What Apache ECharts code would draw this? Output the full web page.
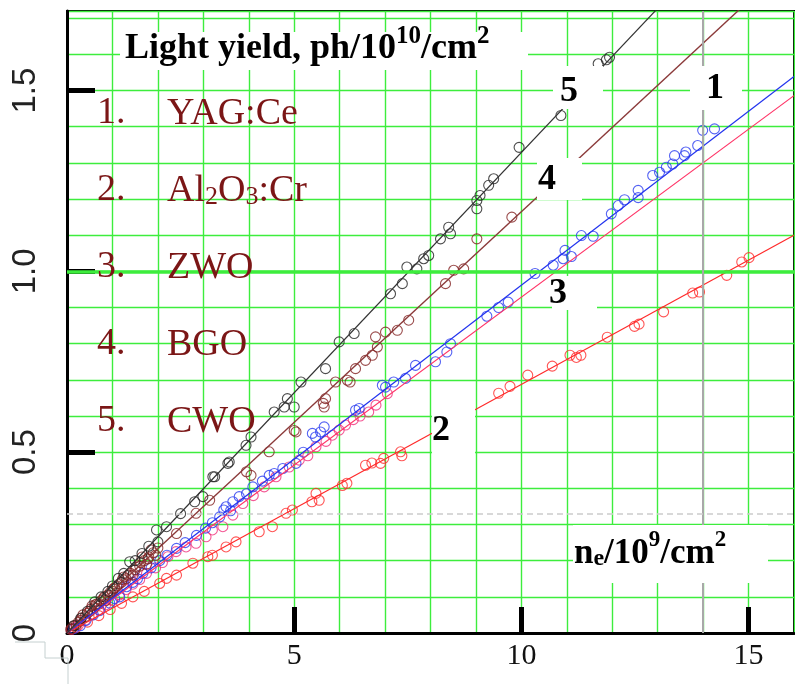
<!DOCTYPE html>
<html>
<head>
<meta charset="utf-8">
<script src="https://cdn.jsdelivr.net/npm/echarts@6/dist/echarts.min.js"></script>
<style>html,body{margin:0;padding:0;background:#fff}#c{width:795px;height:684px}</style>
</head>
<body>
<div id="c"></div>
<script>
// ---------- data ----------
const xTickValues = [0, 5, 10, 15];
const xTickLabels = ['0', '5', '10', '15'];
const yTickValues = [0, 0.5, 1.0, 1.5];
const yTickLabels = ['0', '0.5', '1.0', '1.5'];

const legendNums = ['1.', '2.', '3.', '4.', '5.'];
const legendNames = ['YAG:Ce', 'Al{sub|2}O{sub|3}:Cr', 'ZWO', 'BGO', 'CWO'];
const curveLabels = ['5', '1', '4', '3', '2'];

// 1. YAG:Ce (blue)
const yagPts = [[0.15,0.012],[0.29,0.02],[0.42,0.035],[0.58,0.05],[0.72,0.062],[0.94,0.083],[1.05,0.095],[1.16,0.1],[1.31,0.128],[1.45,0.14],[1.55,0.15],[1.67,0.165],[1.85,0.18],[2.04,0.2],[2.2,0.215],[2.41,0.234],[2.6,0.25],[2.85,0.27],[3.05,0.29],[3.2,0.305],[3.36,0.321],[3.45,0.34],[3.5,0.349],[3.6,0.338],[3.65,0.363],[3.79,0.377],[3.95,0.385],[4.09,0.404],[4.3,0.42],[4.45,0.436],[4.56,0.441],[4.75,0.455],[5.04,0.469],[5.2,0.5],[5.4,0.552],[5.47,0.542],[5.58,0.556],[5.66,0.57],[6.35,0.616],[6.43,0.621],[6.94,0.685],[7.01,0.68],[7.19,0.694],[7.45,0.704],[7.67,0.74],[8.11,0.75],[8.36,0.777],[8.44,0.8],[9.24,0.876],[9.5,0.9],[9.71,0.915],[10.3,0.994],[10.7,1.017],[10.92,1.035],[10.96,1.058],[11.1,1.041],[11.32,1.099],[11.58,1.097],[11.98,1.159],[12.13,1.182],[12.27,1.198],[12.57,1.204],[12.57,1.224],[12.89,1.265],[13.04,1.274],[13.19,1.288],[13.33,1.297],[13.37,1.32],[13.59,1.32],[13.62,1.33],[13.88,1.348],[13.99,1.39],[14.25,1.394]];
const yagFit = [[0,0],[16,1.539]];

// 2. Al2O3:Cr (red)
const alPts = [[0.2,0.015],[0.45,0.03],[0.7,0.048],[0.95,0.065],[1.2,0.082],[1.45,0.1],[1.7,0.115],[2.04,0.137],[2.19,0.151],[2.41,0.16],[2.77,0.193],[3.1,0.211],[3.2,0.215],[3.5,0.238],[3.72,0.252],[4.23,0.28],[4.52,0.294],[4.82,0.331],[4.96,0.34],[5.39,0.363],[5.48,0.386],[5.55,0.367],[6.06,0.408],[6.16,0.414],[6.57,0.464],[6.71,0.47],[6.9,0.469],[6.97,0.483],[7.34,0.501],[7.37,0.49],[9.5,0.663],[9.75,0.682],[10.14,0.713],[10.68,0.738],[11.07,0.768],[11.21,0.762],[11.31,0.768],[11.89,0.818],[12.49,0.848],[12.59,0.854],[13.13,0.888],[13.77,0.94],[13.92,0.943],[14.52,0.989],[14.85,1.026],[15.01,1.038]];
const alFit = [[0,0],[16,1.1]];

// 3. ZWO (pink-red)
const zwoPts = [[0.1,0.01],[0.25,0.022],[0.4,0.035],[0.55,0.05],[0.7,0.065],[0.85,0.078],[1.0,0.09],[1.15,0.105],[1.3,0.12],[1.45,0.135],[1.6,0.148],[1.75,0.165],[1.95,0.18],[2.1,0.195],[2.22,0.211],[2.4,0.225],[2.62,0.238],[2.84,0.248],[3.06,0.266],[3.2,0.285],[3.43,0.294],[3.65,0.326],[3.87,0.358],[4.1,0.38],[4.34,0.404],[4.6,0.432],[4.89,0.459],[5.11,0.478],[5.3,0.49],[5.48,0.515],[5.7,0.53],[5.84,0.547],[5.99,0.561],[6.13,0.575],[6.3,0.59],[6.45,0.6],[6.64,0.611],[6.8,0.63],[7.05,0.662]];
const zwoFit = [[0,0],[16,1.486]];

// 4. BGO (brown)
const bgoPts = [[0.08,0.01],[0.1,0.012],[0.15,0.02],[0.2,0.022],[0.25,0.03],[0.3,0.035],[0.32,0.042],[0.35,0.05],[0.4,0.045],[0.45,0.055],[0.5,0.06],[0.52,0.066],[0.55,0.075],[0.6,0.07],[0.62,0.078],[0.65,0.08],[0.7,0.08],[0.75,0.09],[0.8,0.095],[0.82,0.1],[0.85,0.09],[0.9,0.105],[0.95,0.112],[1.0,0.115],[1.02,0.122],[1.05,0.125],[1.1,0.13],[1.15,0.136],[1.2,0.14],[1.22,0.148],[1.25,0.155],[1.3,0.15],[1.35,0.16],[1.4,0.165],[1.45,0.16],[1.5,0.175],[1.52,0.182],[1.6,0.185],[1.62,0.195],[1.65,0.21],[1.7,0.2],[1.75,0.19],[1.78,0.205],[1.8,0.21],[1.85,0.23],[1.9,0.222],[1.95,0.215],[2.0,0.235],[2.41,0.275],[2.84,0.331],[3.14,0.367],[3.95,0.446],[4.05,0.436],[4.45,0.501],[5.0,0.56],[5.04,0.556],[5.64,0.635],[5.66,0.625],[5.69,0.648],[5.91,0.694],[6.17,0.699],[6.23,0.694],[6.35,0.731],[6.57,0.754],[6.72,0.768],[6.79,0.819],[6.83,0.791],[7.01,0.832],[7.27,0.837],[7.52,0.865],[8.33,0.966],[8.51,1.003],[8.73,1.007],[9.02,1.09],[9.79,1.15]];
const bgoFit = [[0,0],[16,1.864]];

// 5. CWO (black)
const cwoPts = [[0.15,0.02],[0.3,0.04],[0.45,0.06],[0.61,0.086],[0.75,0.1],[0.9,0.115],[1.0,0.13],[1.13,0.151],[1.25,0.165],[1.38,0.197],[1.5,0.2],[1.65,0.22],[1.8,0.24],[1.97,0.285],[2.0,0.252],[2.19,0.294],[2.5,0.33],[2.81,0.363],[2.99,0.377],[3.21,0.432],[3.25,0.432],[3.54,0.469],[3.57,0.473],[3.94,0.519],[4.05,0.542],[4.56,0.611],[4.78,0.625],[4.85,0.648],[5.0,0.625],[5.15,0.694],[5.69,0.731],[5.99,0.805],[6.32,0.828],[7.12,0.938],[7.38,0.966],[7.48,1.012],[7.7,1.007],[7.85,1.035],[7.96,1.044],[8.22,1.09],[8.4,1.122],[8.44,1.104],[9.02,1.173],[9.02,1.196],[9.09,1.21],[9.28,1.238],[9.39,1.256],[9.95,1.343],[10.87,1.431],[11.69,1.574],[11.87,1.585],[11.94,1.592]];
const cwoFit = [[0,0],[16,2.126]];

const refLineY = [1.0];      // thick green line
const greyLineX = [14];      // grey vertical line
const dashLineY = [0.331];   // grey dashed line

// ---------- styles ----------
const GREEN = '#3ded3d';
const SERIF = '"Liberation Serif", "Times New Roman", serif';
const LEGEND_RED = '#7b1616';

function scatter(name, data, color) {
  return {
    name, type: 'scatter', data, symbol: 'circle', symbolSize: 10,
    itemStyle: { color: 'rgba(0,0,0,0)', borderColor: color, borderWidth: 1.1 },
    z: 3, silent: true
  };
}
function fit(name, data, color, w) {
  return {
    name: name + ' fit', type: 'line', data, showSymbol: false, symbol: 'none',
    lineStyle: { color, width: w || 1.2 }, z: 4, silent: true, clip: true
  };
}

const chart = echarts.init(document.getElementById('c'), null, { renderer: 'canvas' });

const whiteBoxes = [
  [120, 32, 408, 38],   // title
  [553, 66, 50, 43],    // 5
  [690, 66, 52, 44],    // 1
  [537, 158, 45, 42],   // 4
  [552, 276, 45, 34],   // 3
  [432, 405, 43, 50],   // 2
  [573, 525, 195, 58]   // n_e
];
const labelPos = [[569, 92], [715, 89], [547, 180], [558, 294], [441, 431]];
const legendY = [112, 189, 266, 343, 420];

const graphics = [];
whiteBoxes.forEach(b => graphics.push({
  type: 'rect', z: 100, silent: true,
  shape: { x: b[0], y: b[1], width: b[2], height: b[3] },
  style: { fill: '#fff' }
}));
curveLabels.forEach((t, i) => graphics.push({
  type: 'text', z: 101, silent: true,
  style: { x: labelPos[i][0], y: labelPos[i][1], text: t, fill: '#000',
    fontFamily: SERIF, fontWeight: 'bold', fontSize: 36, align: 'center', verticalAlign: 'middle' }
}));
legendNums.forEach((t, i) => {
  graphics.push({
    type: 'text', z: 101, silent: true,
    style: { x: 97, y: legendY[i] + 1, text: t, fill: LEGEND_RED, fontFamily: SERIF, fontSize: 38,
      align: 'left', verticalAlign: 'middle' }
  });
  graphics.push({
    type: 'text', z: 101, silent: true,
    style: { x: 167, y: legendY[i] - 7, text: '{m|' + legendNames[i].replace(/\{sub\|(\d)\}/g, '}{sub|$1}{m|') + '}',
      fill: LEGEND_RED, fontFamily: SERIF, fontSize: 38, align: 'left', verticalAlign: 'middle',
      rich: {
        m: { fontFamily: SERIF, fontSize: 38, lineHeight: 56, verticalAlign: 'bottom', fill: LEGEND_RED },
        sub: { fontFamily: SERIF, fontSize: 26, lineHeight: 26, verticalAlign: 'bottom', fill: LEGEND_RED }
      } }
  });
});
// title
graphics.push({
  type: 'text', z: 101, silent: true,
  style: { x: 125, y: 47, text: '{m|Light yield, ph/10}{s|10}{m|/cm}{s|2}', fill: '#000',
    fontFamily: SERIF, fontWeight: 'bold', fontSize: 36, align: 'left', verticalAlign: 'middle',
    rich: {
      m: { fontFamily: SERIF, fontWeight: 'bold', fontSize: 36, lineHeight: 40, verticalAlign: 'bottom', fill: '#000' },
      s: { fontFamily: SERIF, fontWeight: 'bold', fontSize: 25, lineHeight: 25, padding: [0, 0, 18, 0], verticalAlign: 'bottom', fill: '#000' }
    } }
});
// x-axis title
graphics.push({
  type: 'text', z: 101, silent: true,
  style: { x: 574, y: 546, text: '{m|n}{sub|e}{m|/10}{s|9}{m|/cm}{s|2}', fill: '#000',
    fontFamily: SERIF, fontWeight: 'bold', fontSize: 35, align: 'left', verticalAlign: 'middle',
    rich: {
      m: { fontFamily: SERIF, fontWeight: 'bold', fontSize: 35, lineHeight: 50, verticalAlign: 'bottom', fill: '#000' },
      sub: { fontFamily: SERIF, fontWeight: 'bold', fontSize: 24, lineHeight: 24, verticalAlign: 'bottom', fill: '#000' },
      s: { fontFamily: SERIF, fontWeight: 'bold', fontSize: 23, lineHeight: 23, padding: [0, 0, 19, 0], verticalAlign: 'bottom', fill: '#000' }
    } }
});
// corner bracket artifact
graphics.push({
  type: 'polyline', z: 1, silent: true,
  shape: { points: [[15, 642], [45, 642], [45, 658], [68, 658], [68, 684]] },
  style: { stroke: '#c5d0d0', lineWidth: 1, fill: null }
});

const option = {
  animation: false,
  backgroundColor: '#fff',
  grid: { left: 67, right: 1, top: 11, bottom: 51, show: true, borderColor: '#000', borderWidth: 2, backgroundColor: 'transparent' },
  xAxis: [
    { type: 'value', min: 0, max: 16, interval: 1, position: 'bottom',
      axisLine: { show: true, onZero: false, lineStyle: { color: '#000', width: 3 } },
      axisTick: { show: false }, axisLabel: { show: false },
      splitLine: { show: true, lineStyle: { color: GREEN, width: 1.4 } } },
    { type: 'value', min: 0, max: 16, interval: 5, position: 'bottom',
      axisLine: { show: false },
      axisTick: { show: true, inside: true, length: 26, customValues: [5, 10, 15], lineStyle: { color: '#000', width: 5 } },
      axisLabel: { show: true, customValues: xTickValues, margin: 8, color: '#111', fontFamily: SERIF, fontSize: 30,
        formatter: v => { const i = xTickValues.indexOf(v); return i >= 0 ? xTickLabels[i] : ''; } },
      splitLine: { show: false } }
  ],
  yAxis: [
    { type: 'value', min: 0, max: 1.72, interval: 0.1, position: 'left',
      axisLine: { show: true, onZero: false, lineStyle: { color: '#000', width: 3 } },
      axisTick: { show: false }, axisLabel: { show: false },
      splitLine: { show: true, lineStyle: { color: GREEN, width: 1.4 } } },
    { type: 'value', min: 0, max: 1.72, interval: 0.5, position: 'left',
      axisLine: { show: false },
      axisTick: { show: true, inside: true, length: 28, customValues: [0.5, 1.0, 1.5], lineStyle: { color: '#000', width: 5 } },
      axisLabel: { show: true, customValues: yTickValues, rotate: 90, margin: 25, color: '#222',
        fontFamily: '"Liberation Sans Narrow", "Liberation Sans", sans-serif', fontSize: 33,
        formatter: v => { for (let i = 0; i < yTickValues.length; i++) if (Math.abs(yTickValues[i] - v) < 1e-6) return yTickLabels[i]; return ''; } },
      splitLine: { show: false } }
  ],
  graphic: { elements: graphics },
  series: [
    { type: 'line', data: [], silent: true, z: 2,
      markLine: { silent: true, symbol: 'none', label: { show: false }, animation: false,
        data: [
          { yAxis: refLineY[0], lineStyle: { color: GREEN, width: 3.5, type: 'solid' } },
          { xAxis: greyLineX[0], lineStyle: { color: '#a8a8a8', width: 2, type: 'solid' } },
          { yAxis: dashLineY[0], lineStyle: { color: '#cccccc', width: 1.5, type: [6, 4] } }
        ] } },
    fit('Al2O3:Cr', alFit, '#ff2a2a'),
    fit('ZWO', zwoFit, '#ff3366'),
    fit('YAG:Ce', yagFit, '#2233ee'),
    fit('BGO', bgoFit, '#8b3a3a', 1.4),
    fit('CWO', cwoFit, '#333333'),
    scatter('Al2O3:Cr', alPts, '#ff2a2a'),
    scatter('ZWO', zwoPts, '#f0307a'),
    scatter('YAG:Ce', yagPts, '#2a3cf0'),
    scatter('BGO', bgoPts, '#822020'),
    scatter('CWO', cwoPts, '#222222')
  ]
};
chart.setOption(option);
</script>
</body>
</html>
